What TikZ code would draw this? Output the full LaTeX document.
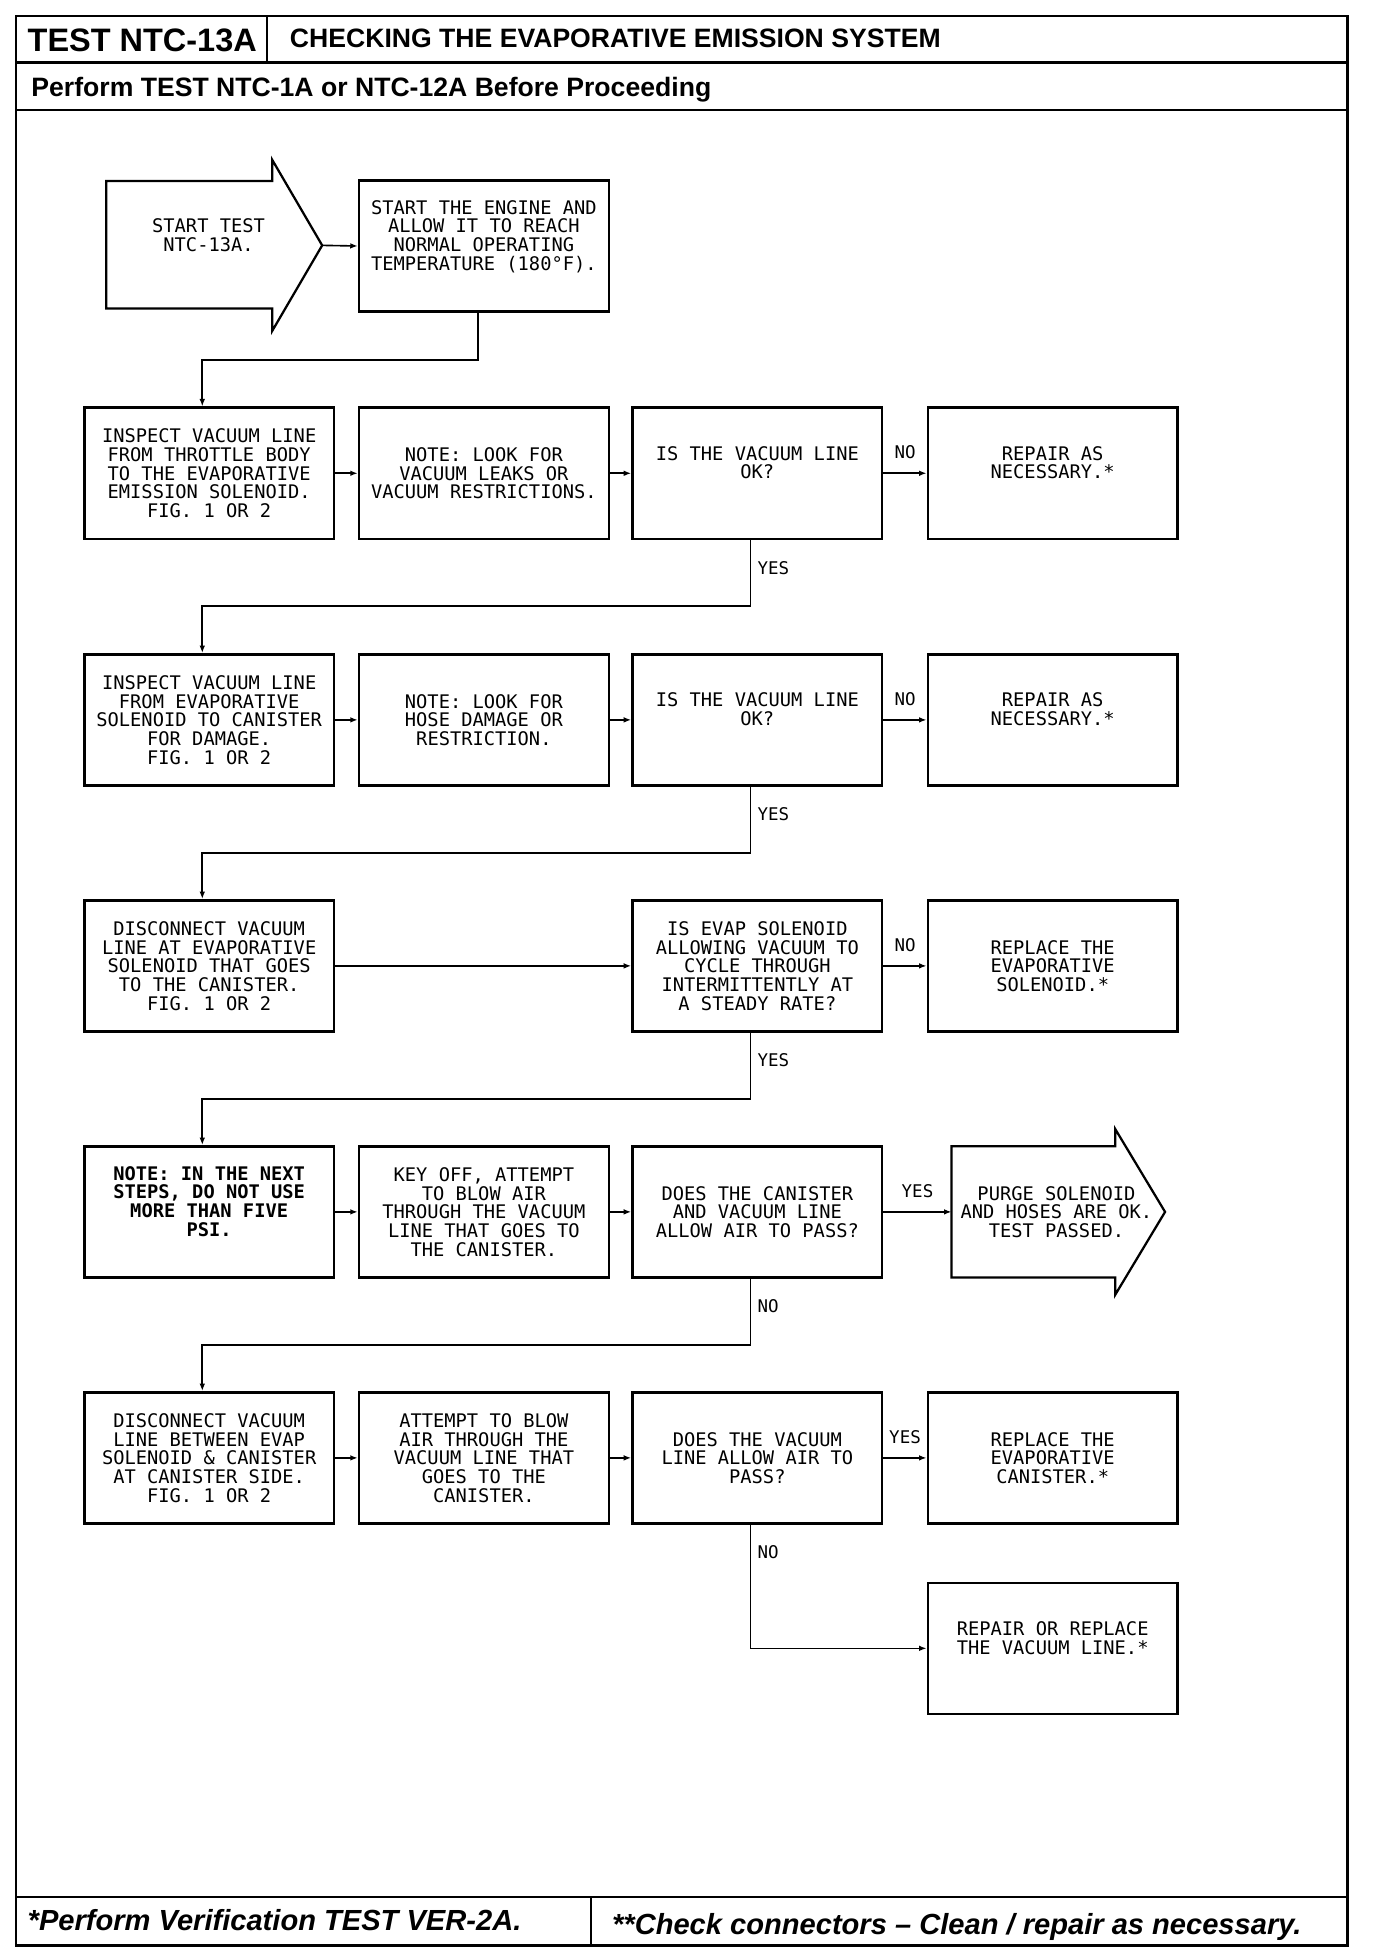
\documentclass[tikz,border=0pt]{standalone}
\usepackage{fontspec}
\setmainfont{Liberation Sans}
\newfontfamily\plotfont{DejaVu Sans Mono}
\usetikzlibrary{positioning,arrows.meta}

\tikzset{
  frame/.style={line width=1.8pt},
  box/.style={draw, line width=2pt, minimum width=200pt, minimum height=105pt,
    inner sep=0pt, align=center, text depth=0pt,
    font=\plotfont\fontsize{15}{15}\selectfont},
  lift/.style={text depth=17pt},
  strong/.style={font=\plotfont\bfseries\fontsize{15}{15}\selectfont},
  plain/.style={inner sep=0pt, align=center, text depth=0pt,
    font=\plotfont\fontsize{15}{15}\selectfont},
  lbl/.style={inner sep=0pt, text depth=0pt, font=\plotfont\fontsize{14}{15}\selectfont},
  link/.style={line width=1.3pt, -{Latex[length=6pt,width=4.5pt]}},
}

\begin{document}
\begin{tikzpicture}[x=1pt,y=-1pt]
\useasboundingbox (0,0) rectangle (1102,1568);
% Frame and headings
\draw[frame] (13,13) rectangle (1079,1558);
\draw[frame] (13,50) -- (1079,50);
\draw[frame] (214,13) -- (214,50);
\draw[frame] (13,88) -- (1079,88);
\draw[frame] (13,1519) -- (1079,1519);
\draw[frame] (473,1519) -- (473,1558);
\node[anchor=base west, inner sep=0pt, font=\bfseries\fontsize{26}{26}\selectfont] (testid) at (22,41) {TEST NTC-13A};
\node[anchor=base west, inner sep=0pt, font=\bfseries\fontsize{21.3}{22}\selectfont] (title) at (232,38) {CHECKING THE EVAPORATIVE EMISSION SYSTEM};
\node[anchor=base west, inner sep=0pt, font=\bfseries\fontsize{21.3}{22}\selectfont] (before) at (25,77) {Perform TEST NTC-1A or NTC-12A Before Proceeding};
\node[anchor=base west, inner sep=0pt, font=\bfseries\itshape\fontsize{23.3}{24}\selectfont] (verify) at (22,1546) {*Perform Verification TEST VER-2A.};
\node[anchor=base west, inner sep=0pt, font=\bfseries\itshape\fontsize{23.3}{24}\selectfont] (connectors) at (490,1549) {**Check connectors – Clean / repair as necessary.};

% Start
\draw[frame] (85,145) -- (218,145) -- (218,128) -- (258,196.5) -- (218,265) -- (218,247) -- (85,247) -- cycle;
\coordinate (starttip) at (258,196.5);
\node[plain] (start) at (167,188.5) {START TEST\\NTC-13A.};
\node[box, lift] (engine) at (387.5,197) {START THE ENGINE AND\\ALLOW IT TO REACH\\NORMAL OPERATING\\TEMPERATURE (180°F).};

% Throttle body line
\node[box] (throttle) at (167.5,379) {INSPECT VACUUM LINE\\FROM THROTTLE BODY\\TO THE EVAPORATIVE\\EMISSION SOLENOID.\\FIG. 1 OR 2};
\node[box] (leaks) at (387.5,379) {NOTE: LOOK FOR\\VACUUM LEAKS OR\\VACUUM RESTRICTIONS.};
\node[box, lift] (lineok) at (606.5,379) {IS THE VACUUM LINE\\OK?};
\node[box, lift] (repair) at (843,379) {REPAIR AS\\NECESSARY.*};

% Canister line
\node[box] (canline) at (167.5,576.5) {INSPECT VACUUM LINE\\FROM EVAPORATIVE\\SOLENOID TO CANISTER\\FOR DAMAGE.\\FIG. 1 OR 2};
\node[box] (hose) at (387.5,576.5) {NOTE: LOOK FOR\\HOSE DAMAGE OR\\RESTRICTION.};
\node[box, lift] (hoseok) at (606.5,576.5) {IS THE VACUUM LINE\\OK?};
\node[box, lift] (repairhose) at (843,576.5) {REPAIR AS\\NECESSARY.*};

% Solenoid cycling
\node[box] (disconnect) at (167.5,773.5) {DISCONNECT VACUUM\\LINE AT EVAPORATIVE\\SOLENOID THAT GOES\\TO THE CANISTER.\\FIG. 1 OR 2};
\node[box] (cycle) at (606.5,773.5) {IS EVAP SOLENOID\\ALLOWING VACUUM TO\\CYCLE THROUGH\\INTERMITTENTLY AT\\A STEADY RATE?};
\node[box] (solenoid) at (843,773.5) {REPLACE THE\\EVAPORATIVE\\SOLENOID.*};

% Blow test
\node[box, lift, strong] (note) at (167.5,970.5) {NOTE: IN THE NEXT\\STEPS, DO NOT USE\\MORE THAN FIVE\\PSI.};
\node[box] (blow) at (387.5,970.5) {KEY OFF, ATTEMPT\\TO BLOW AIR\\THROUGH THE VACUUM\\LINE THAT GOES TO\\THE CANISTER.};
\node[box] (airpass) at (606.5,970.5) {DOES THE CANISTER\\AND VACUUM LINE\\ALLOW AIR TO PASS?};
\draw[frame] (762,918) -- (893,918) -- (893,904) -- (933,970.5) -- (893,1037) -- (893,1023) -- (762,1023) -- cycle;
\coordinate (passin) at (762,970.5);
\node[plain] (passed) at (846,970.5) {PURGE SOLENOID\\AND HOSES ARE OK.\\TEST PASSED.};

% Canister side
\node[box] (between) at (167.5,1167.5) {DISCONNECT VACUUM\\LINE BETWEEN EVAP\\SOLENOID \& CANISTER\\AT CANISTER SIDE.\\FIG. 1 OR 2};
\node[box] (blowside) at (387.5,1167.5) {ATTEMPT TO BLOW\\AIR THROUGH THE\\VACUUM LINE THAT\\GOES TO THE\\CANISTER.};
\node[box] (linepass) at (606.5,1167.5) {DOES THE VACUUM\\LINE ALLOW AIR TO\\PASS?};
\node[box] (canister) at (843,1167.5) {REPLACE THE\\EVAPORATIVE\\CANISTER.*};
\node[box, lift] (vacline) at (843,1320) {REPAIR OR REPLACE\\THE VACUUM LINE.*};

% Connectors
\draw[link] (starttip) -- (engine.west);
\draw[link] ([xshift=-4.5pt]engine.south) -- ++(0,38) -| ([xshift=-5.5pt]throttle.north);
\draw[link] (throttle.east) -- (leaks.west);
\draw[link] (leaks.east) -- (lineok.west);
\draw[link] (lineok.east) -- node[lbl, above=11pt] (no1) {NO} (repair.west);
\draw[link] ([xshift=-5.5pt]lineok.south) -- node[lbl, pos=0.42, right=5pt] (yes1) {YES} ++(0,53) -| ([xshift=-5.5pt]canline.north);
\draw[link] (canline.east) -- (hose.west);
\draw[link] (hose.east) -- (hoseok.west);
\draw[link] (hoseok.east) -- node[lbl, above=11pt] (no2) {NO} (repairhose.west);
\draw[link] ([xshift=-5.5pt]hoseok.south) -- node[lbl, pos=0.42, right=5pt] (yes2) {YES} ++(0,53) -| ([xshift=-5.5pt]disconnect.north);
\draw[link] (disconnect.east) -- (cycle.west);
\draw[link] (cycle.east) -- node[lbl, above=11pt] (no3) {NO} (solenoid.west);
\draw[link] ([xshift=-5.5pt]cycle.south) -- node[lbl, pos=0.42, right=5pt] (yes3) {YES} ++(0,53) -| ([xshift=-5.5pt]note.north);
\draw[link] (note.east) -- (blow.west);
\draw[link] (blow.east) -- (airpass.west);
\draw[link] (airpass.east) -- node[lbl, above=11pt] (yes4) {YES} (passin);
\draw[link] ([xshift=-5.5pt]airpass.south) -- node[lbl, pos=0.42, right=5pt] (no4) {NO} ++(0,53) -| ([xshift=-5.5pt]between.north);
\draw[link] (between.east) -- (blowside.west);
\draw[link] (blowside.east) -- (linepass.west);
\draw[link] (linepass.east) -- node[lbl, above=11pt] (yes5) {YES} (canister.west);
\draw[link] ([xshift=-5.5pt]linepass.south) |- node[lbl, pos=0.11, right=5pt] (no5) {NO} (vacline.west);
\end{tikzpicture}
\end{document}
